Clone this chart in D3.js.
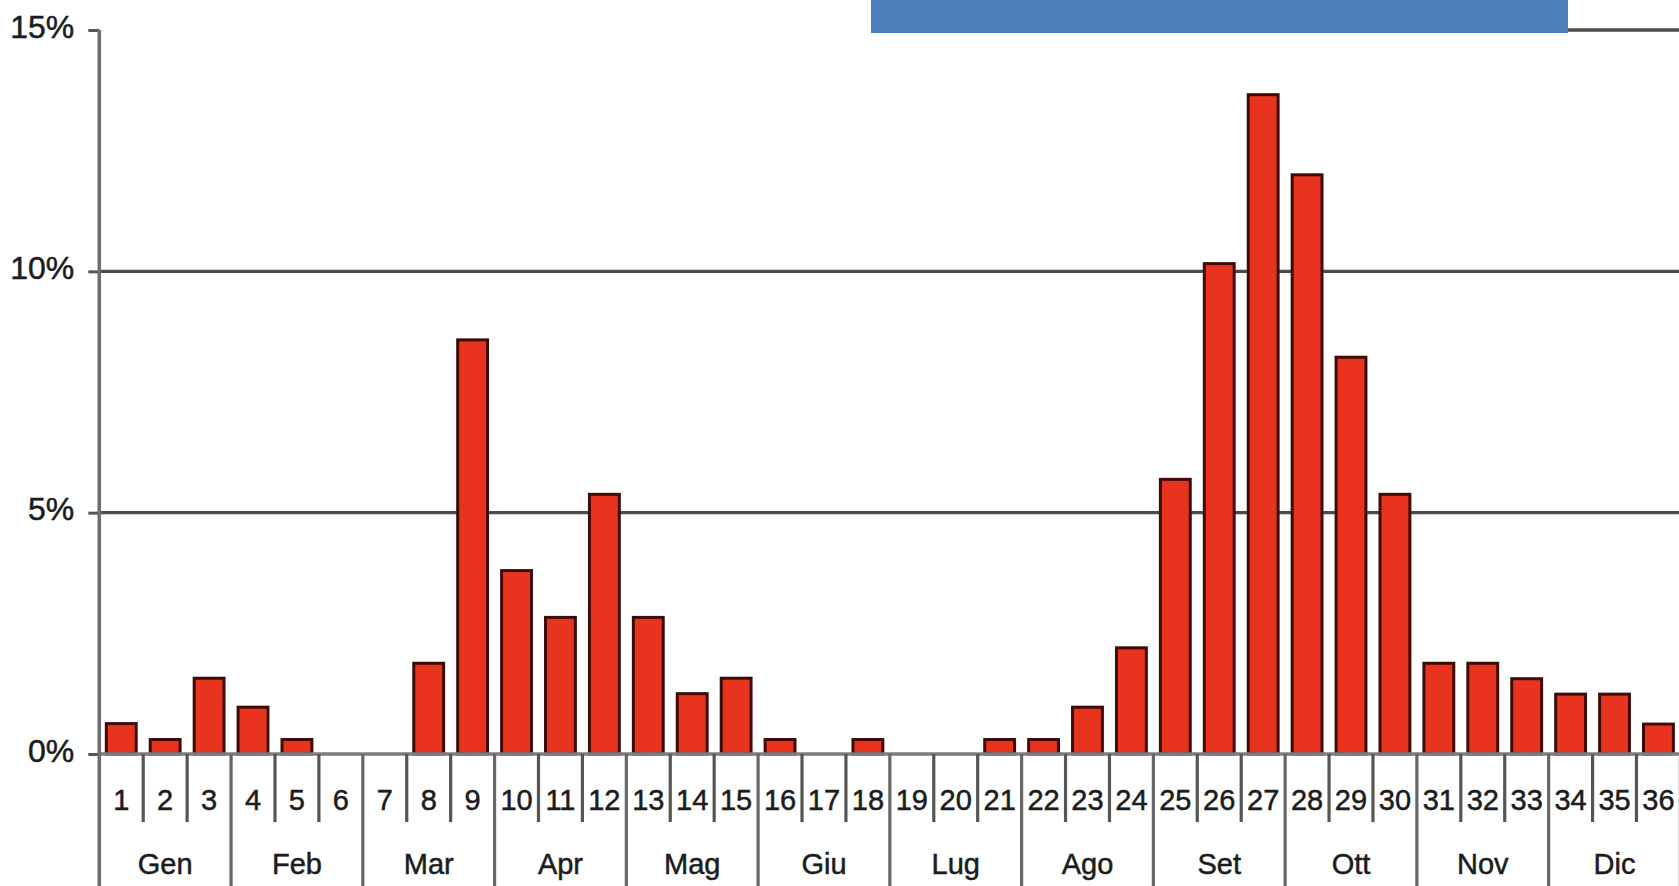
<!DOCTYPE html>
<html>
<head>
<meta charset="utf-8">
<script src="https://cdn.jsdelivr.net/npm/d3@7"></script>
<style>
  html, body { margin: 0; padding: 0; background: #fff; overflow: hidden; }
  svg { display: block; }
  text { font-family: "Liberation Sans", Arial, sans-serif; fill: #1c1c1c; stroke: #1c1c1c; stroke-width: 0.5px; }
</style>
</head>
<body>
<svg id="chart" width="1679" height="886"></svg>
<script>
// ---- data ----
const days = d3.range(1, 37).map(String);
const values = [0.63, 0.30, 1.57, 0.97, 0.30, 0, 0, 1.88, 8.58, 3.80, 2.83, 5.38,
                2.83, 1.25, 1.57, 0.30, 0, 0.30, 0, 0, 0.30, 0.30, 0.97, 2.20,
                5.69, 10.16, 13.66, 12.00, 8.22, 5.38, 1.88, 1.88, 1.56, 1.24, 1.24, 0.62];
const months = ["Gen", "Feb", "Mar", "Apr", "Mag", "Giu", "Lug", "Ago", "Set", "Ott", "Nov", "Dic"];
const yTicks = [0, 5, 10, 15];
const yTickLabels = ["0%", "5%", "10%", "15%"];

// ---- layout ----
const W = 1679, H = 886;
const left = 99.3, right = 1680.4;
const y0px = 754, y15px = 30;
const svg = d3.select("#chart");

const x = d3.scaleBand().domain(days).range([left, right]).paddingInner(0.32).paddingOuter(0.16);
const step = x.step();
const y = d3.scaleLinear().domain([0, 15]).range([y0px, y15px]);

// gridlines 5% and 10%
svg.append("g").selectAll("line").data([5, 10]).join("line")
  .attr("x1", left).attr("x2", W)
  .attr("y1", d => y(d)).attr("y2", d => y(d))
  .attr("stroke", "#4c4c4c").attr("stroke-width", 3.4);
// 15% line (visible part at right)
svg.append("line")
  .attr("x1", 871).attr("x2", W).attr("y1", y(15)).attr("y2", y(15))
  .attr("stroke", "#4c4c4c").attr("stroke-width", 3.4);

// bars
svg.append("g").selectAll("rect").data(values.map((v, i) => ({ day: days[i], v })).filter(d => d.v > 0))
  .join("rect")
  .attr("x", d => x(d.day))
  .attr("width", x.bandwidth())
  .attr("y", d => y(d.v))
  .attr("height", d => y(0) - y(d.v))
  .attr("fill", "#e8331f")
  .attr("stroke", "#3e0c07")
  .attr("stroke-width", 3);

// baseline
svg.append("line")
  .attr("x1", left).attr("x2", W).attr("y1", y(0)).attr("y2", y(0))
  .attr("stroke", "#7c7c7c").attr("stroke-width", 3.6);

// y axis
const yAxis = d3.axisLeft(y).tickValues(yTicks).tickSize(11).tickPadding(14)
  .tickFormat((d, i) => yTickLabels[i]);
const gy = svg.append("g").attr("transform", `translate(${left},0)`).call(yAxis);
gy.select(".domain").remove();
gy.selectAll(".tick line").attr("stroke", "#555").attr("stroke-width", 3);
gy.selectAll(".tick text")
  .attr("font-size", 32).attr("fill", "#1c1c1c")
  .attr("font-family", '"Liberation Sans", Arial, sans-serif')
  .attr("dy", "0.32em").attr("y", -3);
// axis line from top to bottom of image (serves as first month separator)
svg.append("line")
  .attr("x1", left).attr("x2", left).attr("y1", y(15)).attr("y2", H)
  .attr("stroke", "#6e6e6e").attr("stroke-width", 3.6);

// day separators
const boundaries = d3.range(1, 37);
svg.append("g").selectAll("line").data(boundaries).join("line")
  .attr("x1", i => left + i * step).attr("x2", i => left + i * step)
  .attr("y1", y(0))
  .attr("y2", i => (i % 3 === 0 ? H : 822))
  .attr("stroke", i => (i % 3 === 0 ? "#666" : "#555"))
  .attr("stroke-width", 3.2);

// day labels
svg.append("g").selectAll("text").data(days).join("text")
  .attr("x", d => x(d) + x.bandwidth() / 2)
  .attr("y", 810)
  .attr("text-anchor", "middle")
  .attr("font-size", 29)
  .text(d => d);

// month labels
svg.append("g").selectAll("text").data(months).join("text")
  .attr("x", (m, i) => left + (i * 3 + 1.5) * step)
  .attr("y", 874)
  .attr("text-anchor", "middle")
  .attr("font-size", 29)
  .text(m => m);

// blue banner at top
svg.append("rect")
  .attr("x", 871).attr("y", 0).attr("width", 1568 - 871).attr("height", 33)
  .attr("fill", "#4a7fb9");
</script>
</body>
</html>
